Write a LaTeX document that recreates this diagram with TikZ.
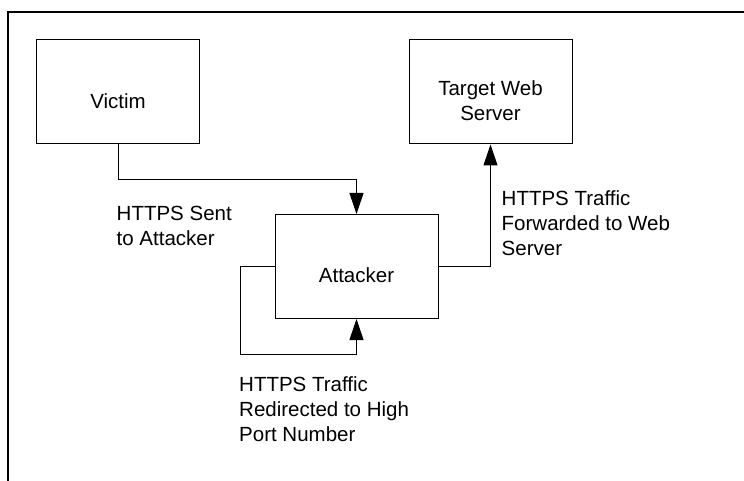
\documentclass[tikz,border=0pt]{standalone}
\usepackage{fontspec}
\setmainfont{Liberation Sans}
\usetikzlibrary{arrows.meta}
\tikzset{
  box/.style={draw=black, line width=1bp, minimum width=163bp, minimum height=104bp, inner sep=0pt},
  txt/.style={inner sep=0pt, font=\fontsize{20.5bp}{25bp}\selectfont},
  lbl/.style={txt, align=left, anchor=base west},
  conn/.style={draw=black, line width=1bp},
  arr/.style={conn, -{Triangle[length=21bp,width=14bp]}},
  frame/.style={draw=black, line width=2bp}
}
\begin{document}
\begin{tikzpicture}[x=1bp, y=-1bp]
\useasboundingbox (0,0) rectangle (744,481);
% outer frame
\draw[frame] (8,481) -- (8,12) -- (744,12);
% boxes
\node[box] (victim) at (118,92) {};
\node[box] (target) at (490.5,92) {};
\node[box] (attacker) at (356.5,266.5) {};
% box texts (base anchor = baseline of the last line)
\node[txt, anchor=base] (victimtext) at (118,109) {Victim};
\node[txt, align=center, anchor=base] (targettext) at (490.5,121) {Target Web\\Server};
\node[txt, anchor=base] (attackertext) at (356.5,282.3) {Attacker};
% connectors
\draw[arr] (victim.south) -- ++(0,35) -| (attacker.north);
\draw[arr] (attacker.east) -| (target.south);
\coordinate (loopc) at (240,354);
\draw[arr] (attacker.west) -| (loopc) -| (attacker.south);
% labels
\node[lbl] (sent) at (116.5,245.5) {HTTPS Sent\\to Attacker};
\node[lbl] (fwd) at (501.5,255.5) {HTTPS Traffic\\Forwarded to Web\\Server};
\node[lbl] (redir) at (239,441) {HTTPS Traffic\\Redirected to High\\Port Number};
\end{tikzpicture}
\end{document}
